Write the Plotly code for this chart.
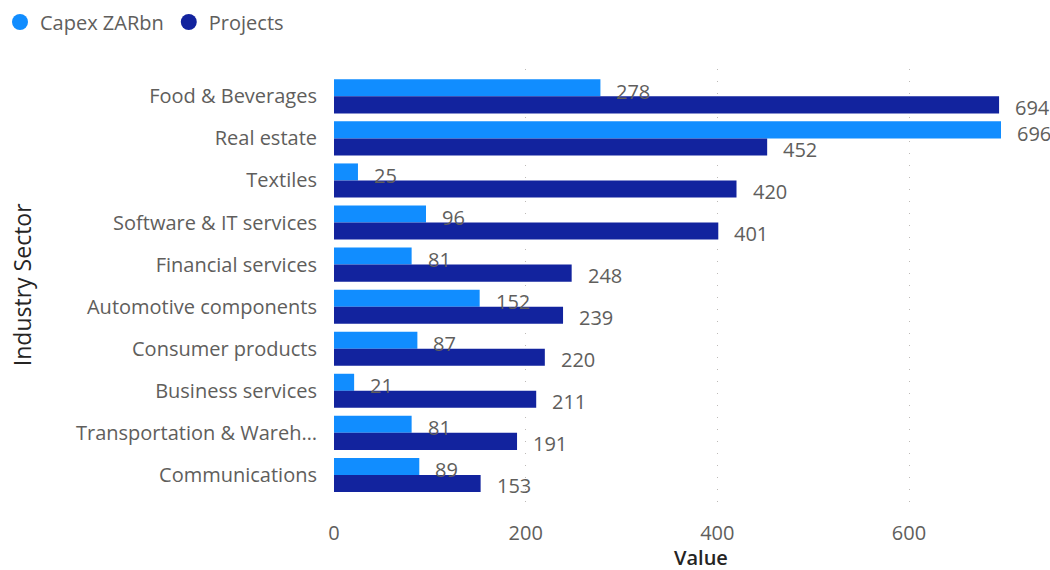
import plotly.graph_objects as go

# Industry sectors, top to bottom
sectors = [
    "Food & Beverages",
    "Real estate",
    "Textiles",
    "Software & IT services",
    "Financial services",
    "Automotive components",
    "Consumer products",
    "Business services",
    "Transportation & Wareh…",
    "Communications",
]
capex_zarbn = [278, 696, 25, 96, 81, 152, 87, 21, 81, 89]
projects = [694, 452, 420, 401, 248, 239, 220, 211, 191, 153]
x_ticks = [0, 200, 400, 600]

CAPEX_COLOR = "#118DFF"
PROJECTS_COLOR = "#12239E"
LABEL_GREY = "#605E5C"
TITLE_DARK = "#252423"
FONT = "Segoe UI, Open Sans, sans-serif"
FS = 20

fig = go.Figure()

fig.add_trace(go.Bar(
    y=sectors, x=capex_zarbn, orientation="h", name="Capex ZARbn",
    marker=dict(color=CAPEX_COLOR, line=dict(width=0)), showlegend=False,
))
fig.add_trace(go.Bar(
    y=sectors, x=projects, orientation="h", name="Projects",
    marker=dict(color=PROJECTS_COLOR, line=dict(width=0)), showlegend=False,
))

# Round legend markers
for name, color in [("Capex ZARbn", CAPEX_COLOR), ("Projects", PROJECTS_COLOR)]:
    fig.add_trace(go.Scatter(
        x=[None], y=[None], mode="markers", name=name,
        marker=dict(color=color, size=18, symbol="circle"),
    ))

# Data labels beside each bar end
for series, yshift in [(capex_zarbn, 5), (projects, -11)]:
    for s, v in zip(sectors, series):
        fig.add_annotation(
            x=v, y=s, text=str(v), showarrow=False,
            xanchor="left", yanchor="middle", xshift=14, yshift=yshift,
            font=dict(family=FONT, size=FS, color=LABEL_GREY),
        )

# Axis titles
fig.add_annotation(
    x=0.532, y=-0.111, xref="paper", yref="paper", text="Value", showarrow=False,
    xanchor="center", yanchor="middle",
    font=dict(family=FONT, size=FS, color=TITLE_DARK, weight=600),
)
fig.add_annotation(
    x=-0.452, y=0.509, xref="paper", yref="paper", text="Industry Sector",
    showarrow=False, textangle=-90, xanchor="center", yanchor="middle",
    font=dict(family=FONT, size=23, color=TITLE_DARK),
)

fig.update_layout(
    width=1050, height=570,
    margin=dict(l=334, r=26, t=69, b=61, autoexpand=False),
    paper_bgcolor="white", plot_bgcolor="white",
    barmode="group", bargap=0.19, bargroupgap=0,
    font=dict(family=FONT, size=FS, color=LABEL_GREY),
    legend=dict(
        orientation="h", xref="container", yref="container",
        x=0, xanchor="left", y=1 - 22 / 570, yanchor="middle",
        font=dict(family=FONT, size=FS, color=LABEL_GREY),
        itemsizing="trace", tracegroupgap=0, itemwidth=30,
    ),
    xaxis=dict(
        range=[0, 720], tickvals=x_ticks, showline=False, zeroline=False,
        showgrid=True, gridcolor="#BEBBB8", gridwidth=1, griddash="1px,11px",
        ticklabelstandoff=10, tickfont=dict(family=FONT, size=FS, color=LABEL_GREY),
        automargin=False,
    ),
    yaxis=dict(
        categoryorder="array", categoryarray=sectors,
        range=[9.81, -0.65], showline=False, zeroline=False, showgrid=False,
        ticklabelstandoff=16, tickfont=dict(family=FONT, size=FS, color=LABEL_GREY),
        automargin=False,
    ),
)

fig.write_html("out.html")
